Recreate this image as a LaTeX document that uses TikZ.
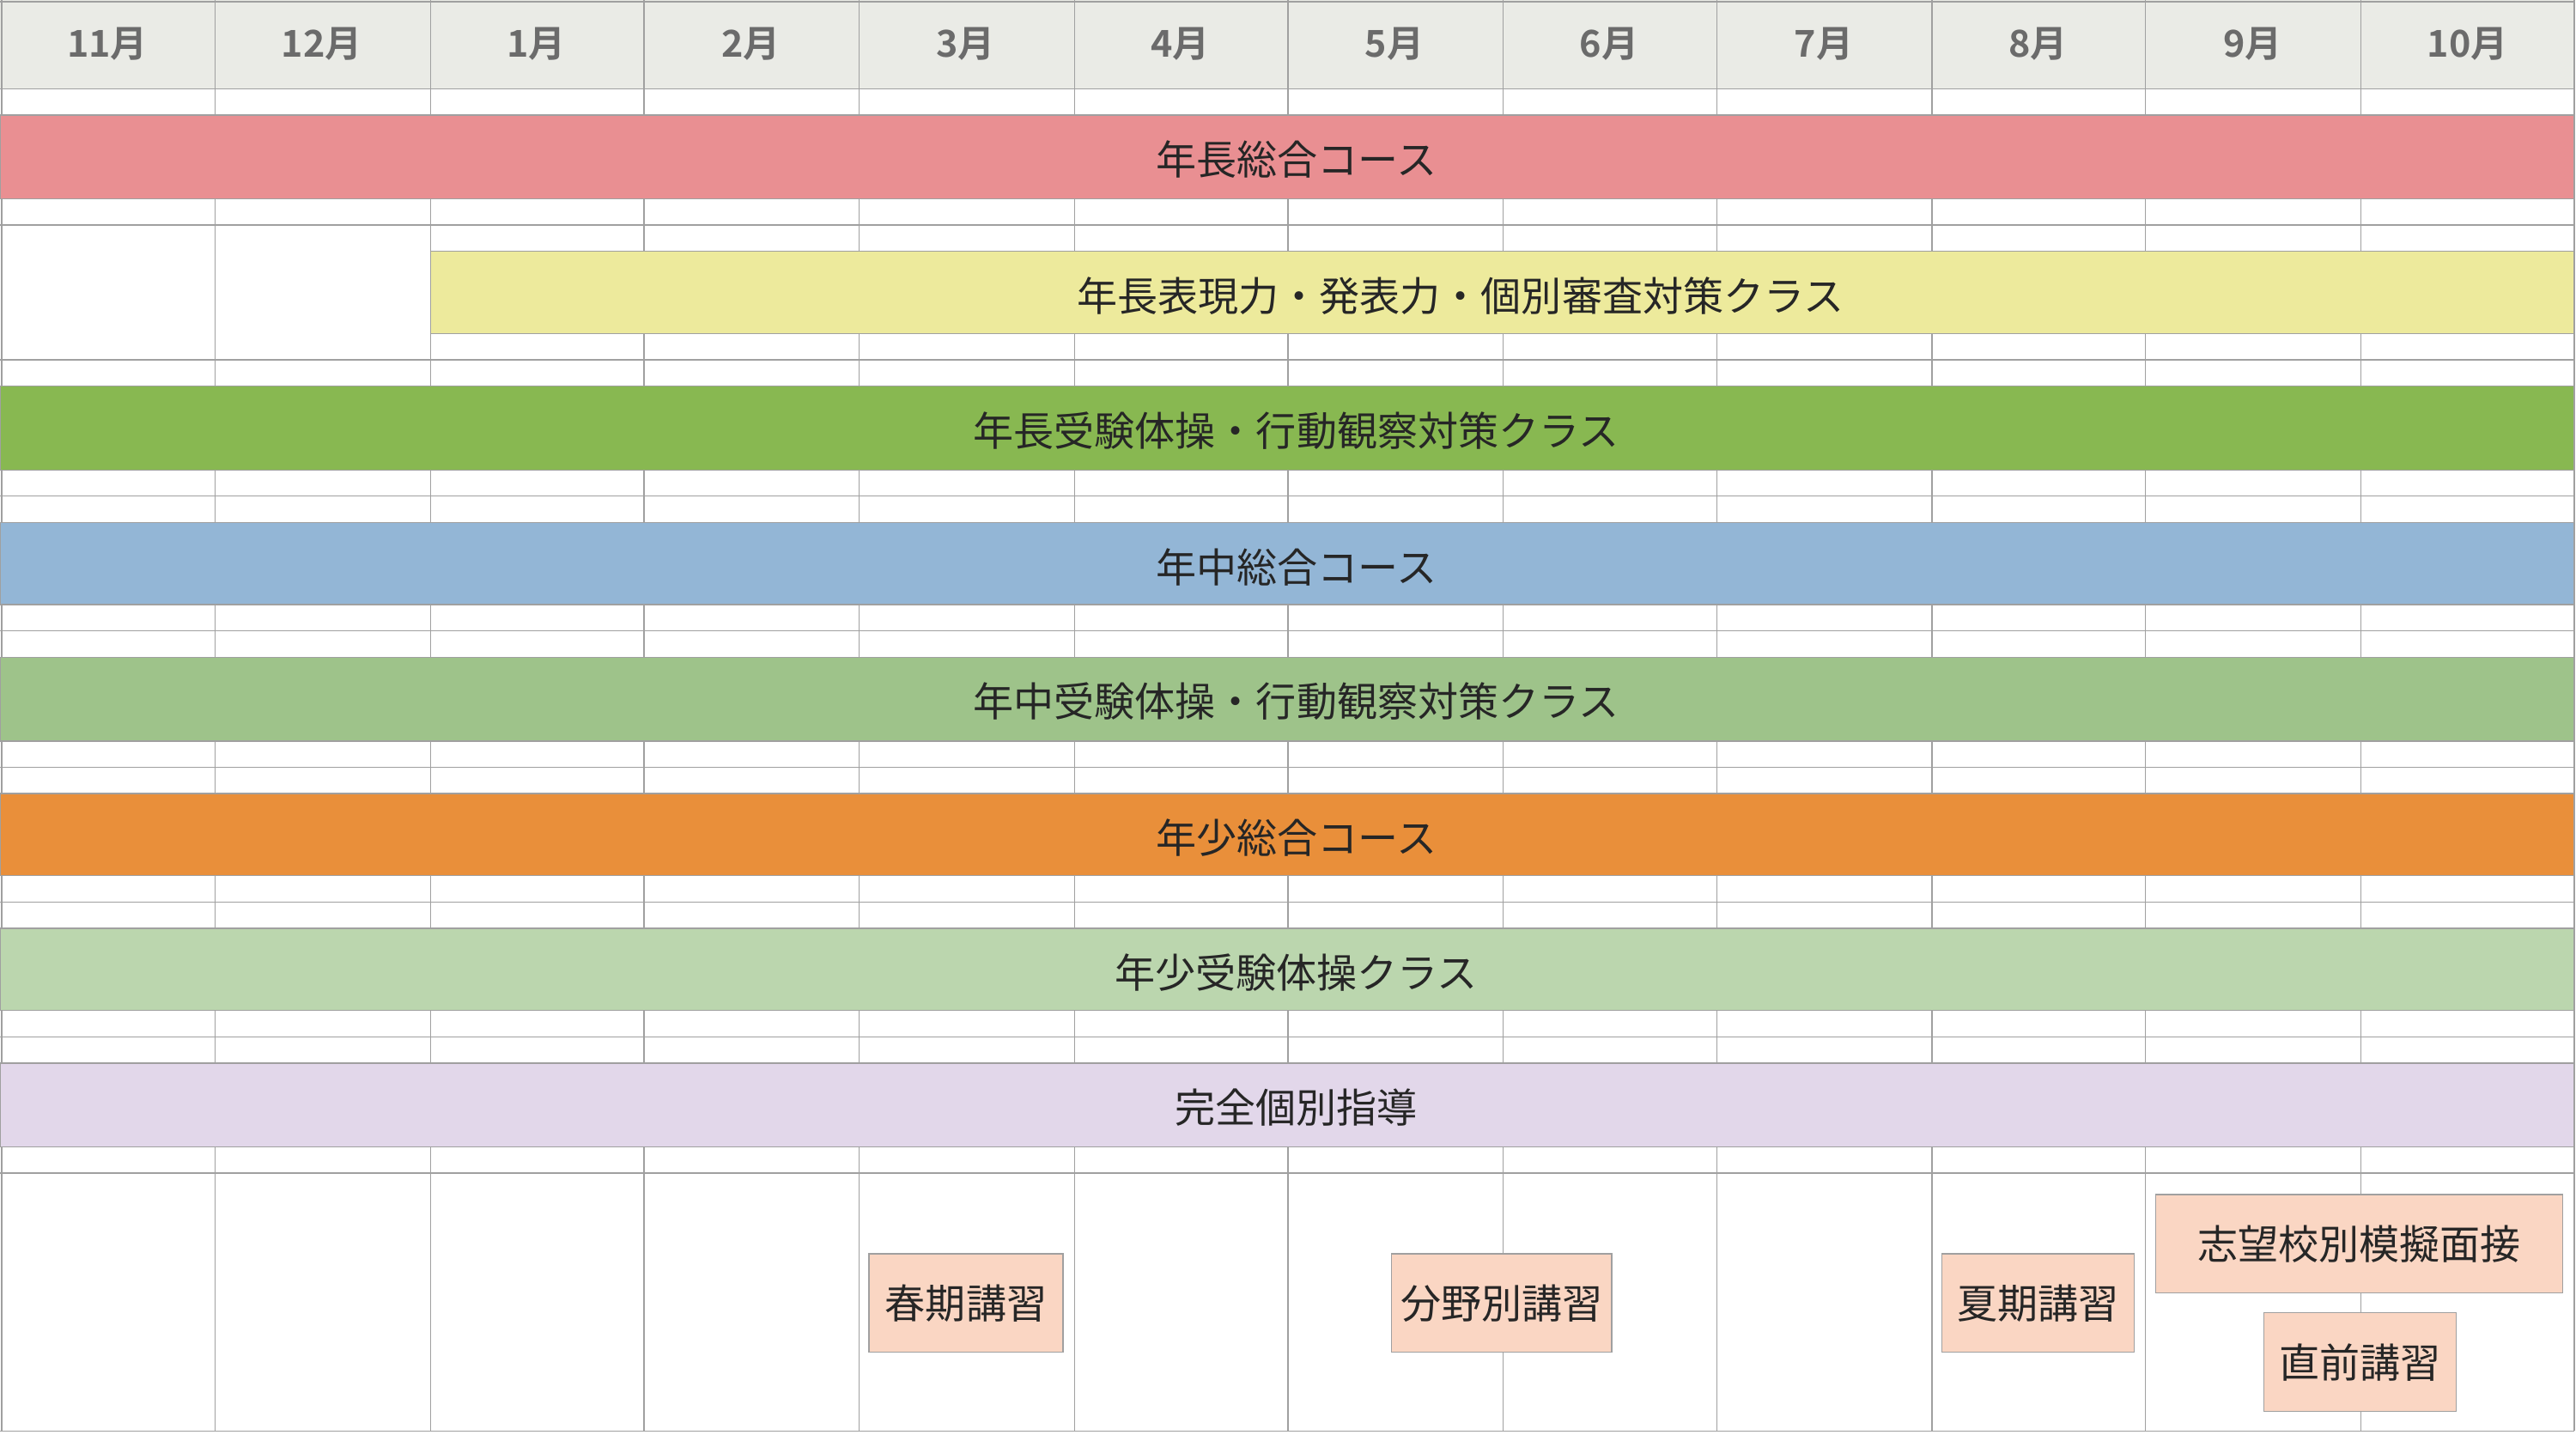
\documentclass[tikz,border=0pt]{standalone}
\usepackage{fontspec}
\setmainfont{Noto Sans CJK JP}
\newfontfamily\jpb{Noto Sans CJK JP Bold}
\definecolor{gridc}{HTML}{A0A0A0}
\definecolor{headc}{HTML}{EAEBE6}
\definecolor{headt}{HTML}{6B6B6B}
\definecolor{cA}{HTML}{E98F92}
\definecolor{cB}{HTML}{EDEA9C}
\definecolor{cC}{HTML}{88B851}
\definecolor{cD}{HTML}{93B6D6}
\definecolor{cE}{HTML}{9EC38A}
\definecolor{cF}{HTML}{E98F3A}
\definecolor{cG}{HTML}{BBD6AE}
\definecolor{cH}{HTML}{E2D7EA}
\definecolor{cP}{HTML}{FAD6C3}
\tikzset{
 bar/.style={draw=gridc,line width=1pt},
 bartext/.style={font=\fontsize{35}{40}\selectfont,text=black!85},
 head/.style={font=\jpb\fontsize{32}{36}\selectfont,text=headt},
 ev/.style={draw=gridc,fill=cP,line width=1pt,font=\fontsize{35}{40}\selectfont,inner sep=0pt,text=black!85},
}
\begin{document}
\begin{tikzpicture}[x=0.05cm,y=-0.05cm]
\useasboundingbox (0,0) rectangle (1568,873);
\fill[white] (0,0) rectangle (1568,873);
\fill[headc] (0,0) rectangle (1567,54);
\foreach \y in {54,70,121,137,219,235,286,302,318,368,384,400,451,467,483,533,549,565,615,631,647,698,714,871}
  \draw[gridc,line width=1pt] (0,\y) -- (1567,\y);
\foreach \y in {153,203}
  \draw[gridc,line width=1pt] (262,\y) -- (1567,\y);
\draw[gridc,line width=1pt] (0,1) -- (1567,1);
\foreach \x in {1,131,262,392,523,654,784,915,1045,1176,1306,1437,1567}
  \draw[gridc,line width=1pt] (\x,0) -- (\x,871);
\foreach \m [count=\i] in {11月,12月,1月,2月,3月,4月,5月,6月,7月,8月,9月,10月}
  \node[head] (h\i) at ({(\i-0.5)*130.6},27) {\m};
\draw[bar,fill=cA] (0,70) rectangle (1567,121);
\node[bartext] (bA) at (789,97) {年長総合コース};
\draw[bar,fill=cB] (262,153) rectangle (1567,203);
\node[bartext] (bB) at (889,180) {年長表現力・発表力・個別審査対策クラス};
\draw[bar,fill=cC] (0,235) rectangle (1567,286);
\node[bartext] (bC) at (789,262) {年長受験体操・行動観察対策クラス};
\draw[bar,fill=cD] (0,318) rectangle (1567,368);
\node[bartext] (bD) at (789,345) {年中総合コース};
\draw[bar,fill=cE] (0,400) rectangle (1567,451);
\node[bartext] (bE) at (789,427) {年中受験体操・行動観察対策クラス};
\draw[bar,fill=cF] (0,483) rectangle (1567,533);
\node[bartext] (bF) at (789,510) {年少総合コース};
\draw[bar,fill=cG] (0,565) rectangle (1567,615);
\node[bartext] (bG) at (789,592) {年少受験体操クラス};
\draw[bar,fill=cH] (0,647) rectangle (1567,698);
\node[bartext] (bH) at (789,674) {完全個別指導};
\node[ev,minimum width=118*0.05cm,minimum height=60*0.05cm] (e1) at (588,793) {春期講習};
\node[ev,minimum width=134*0.05cm,minimum height=60*0.05cm] (e2) at (914,793) {分野別講習};
\node[ev,minimum width=117*0.05cm,minimum height=60*0.05cm] (e3) at (1240.5,793) {夏期講習};
\node[ev,minimum width=248*0.05cm,minimum height=60*0.05cm] (e4) at (1436,757) {志望校別模擬面接};
\node[ev,minimum width=117*0.05cm,minimum height=60*0.05cm] (e5) at (1436.5,829) {直前講習};
\end{tikzpicture}
\end{document}
